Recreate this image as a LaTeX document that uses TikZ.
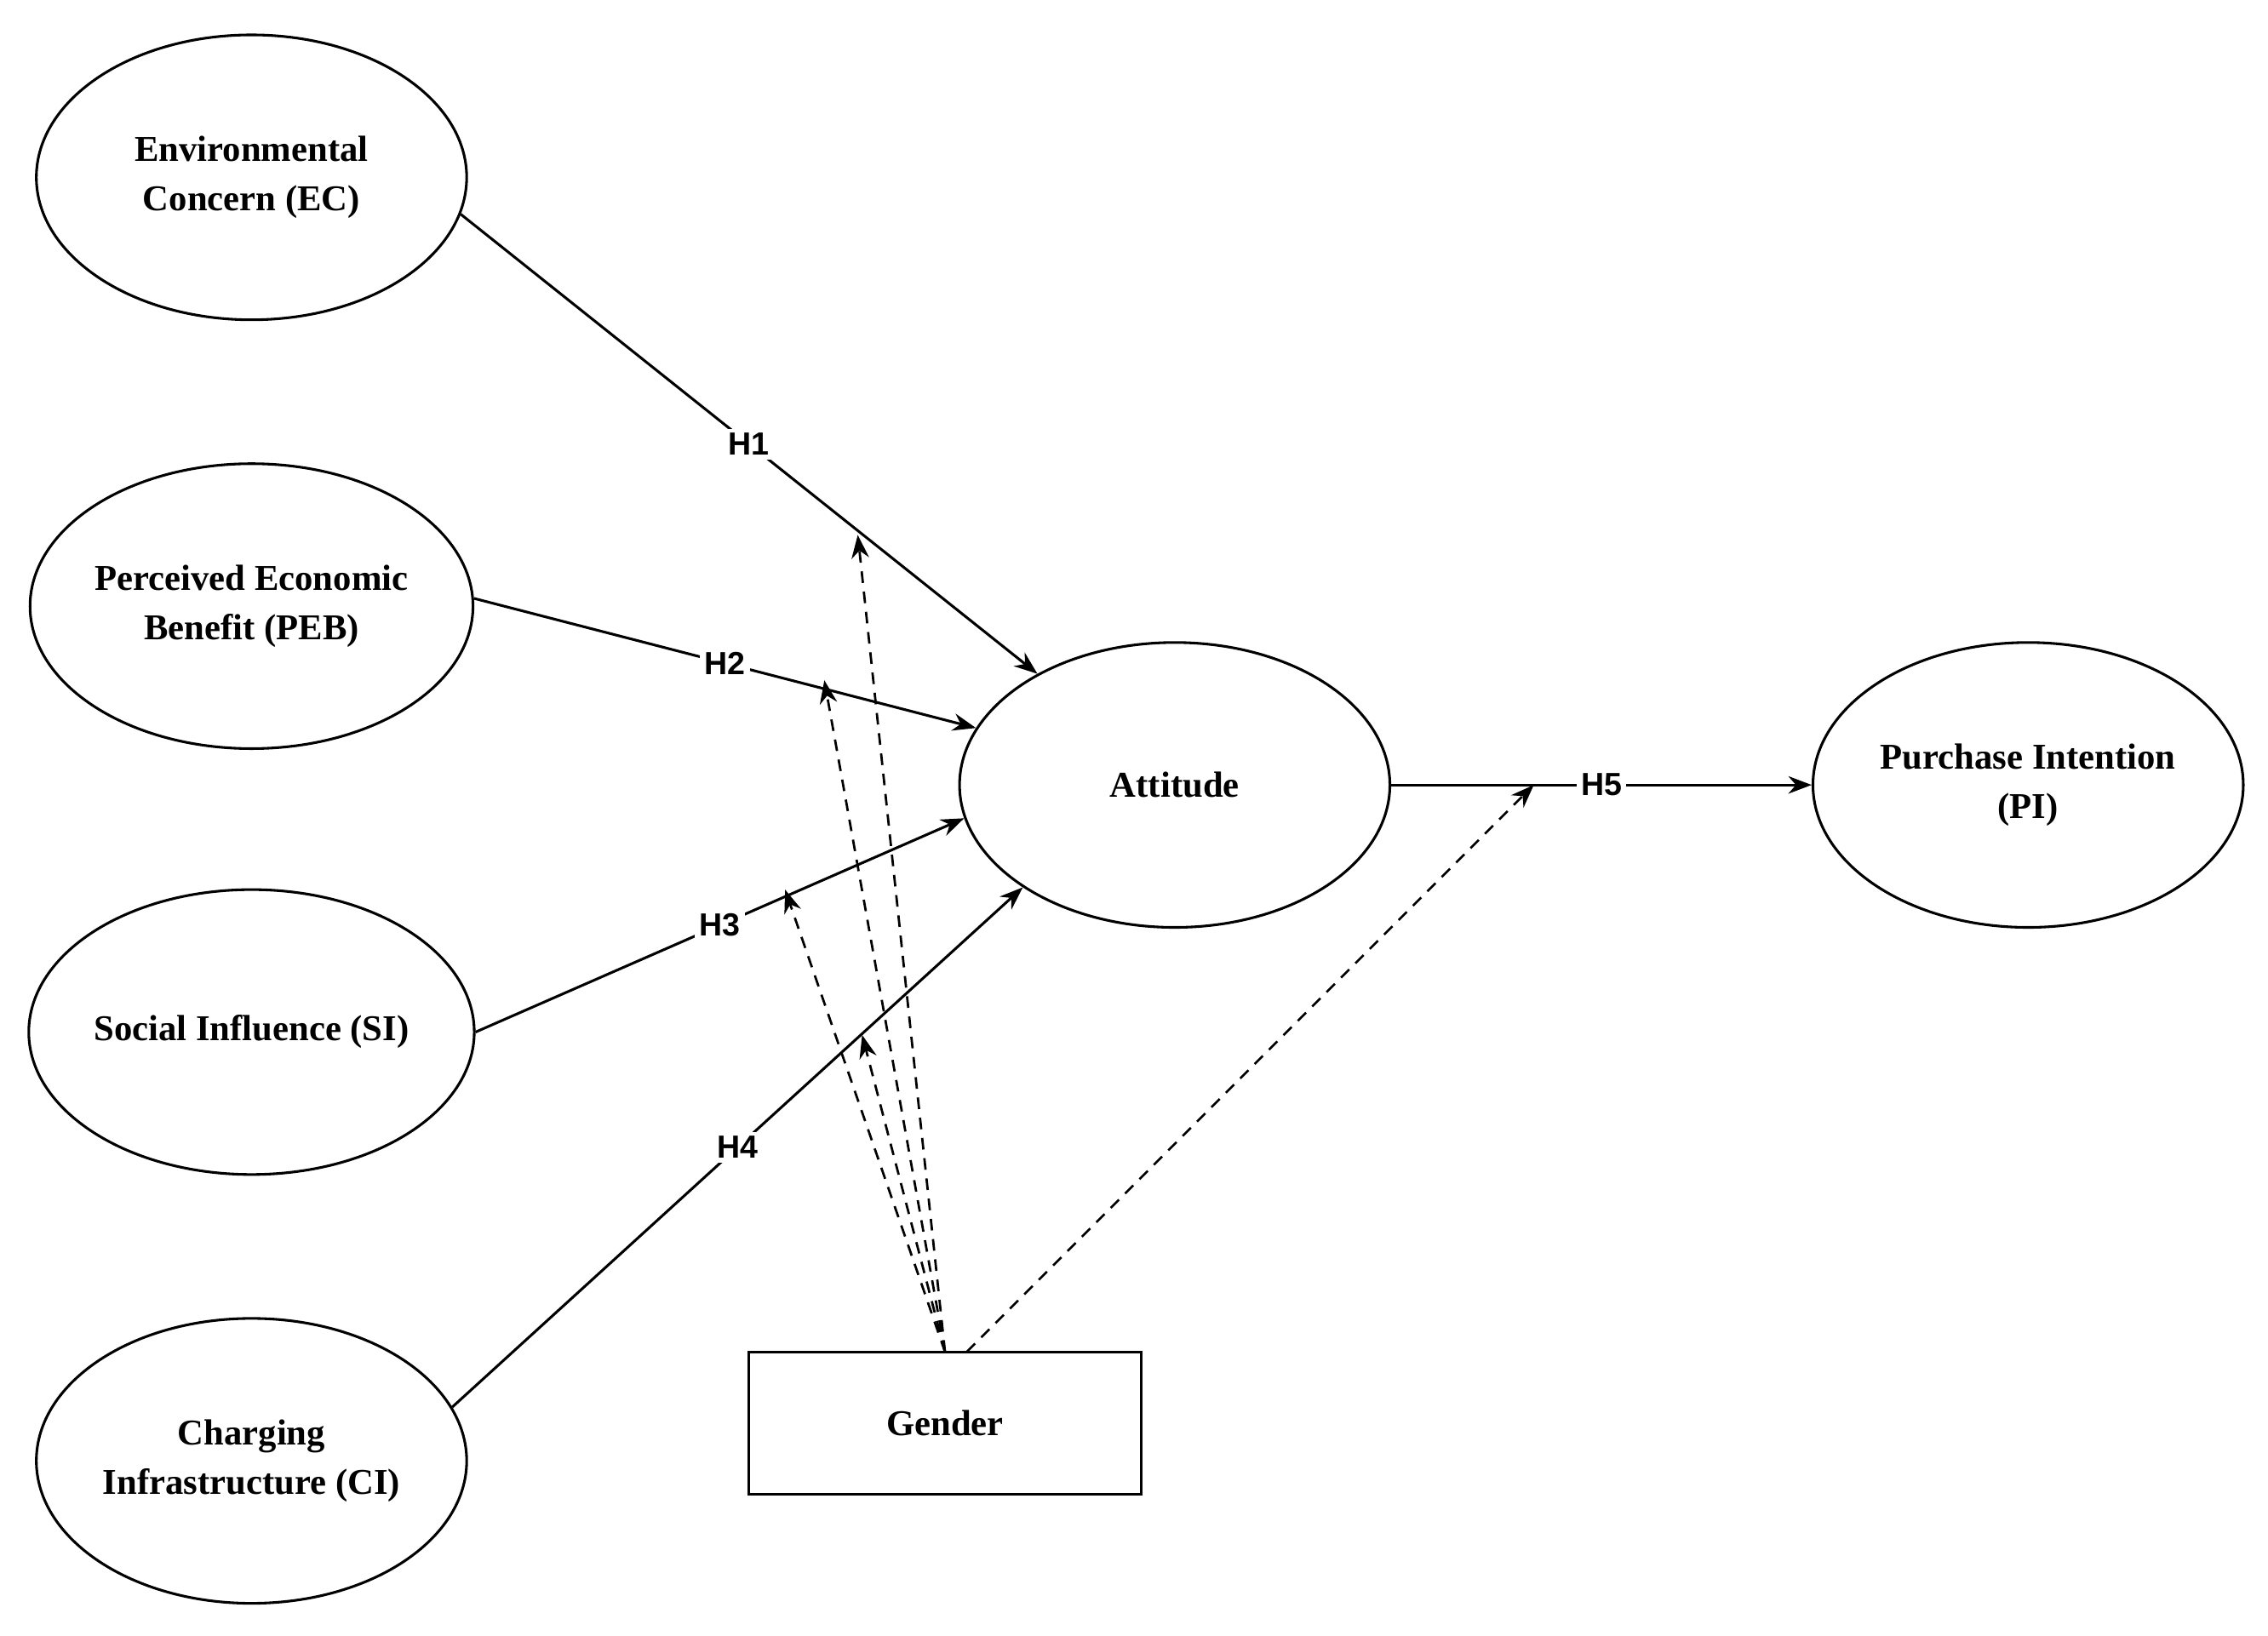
\documentclass[tikz,border=0pt]{standalone}
\usepackage{fontspec}
\setmainfont{Liberation Serif}
\newfontfamily\lab{Liberation Sans}
\usetikzlibrary{arrows.meta,shapes.geometric}
\begin{document}
\begin{tikzpicture}[x=0.5pt,y=-0.5pt,
  ell/.style={draw,ellipse,line width=0.9pt,minimum width=148pt,minimum height=98pt,inner sep=0pt,align=center,font=\bfseries\fontsize{12.5}{17}\selectfont},
  arr/.style={line width=0.9pt,-{Stealth[length=8pt,width=6pt]}},
  darr/.style={line width=0.8pt,dashed,dash pattern=on 4pt off 3pt,-{Stealth[length=8pt,width=6pt]}},
  hl/.style={fill=white,inner sep=1.5pt,font=\lab\bfseries\fontsize{11}{13}\selectfont}]
\useasboundingbox (0,0) rectangle (1560,1125);
\node[ell] (EC) at (173,122) {Environmental\\Concern (EC)};
\node[ell] (PEB) at (173,417) {Perceived Economic\\Benefit (PEB)};
\node[ell] (SI) at (173,710) {Social Influence (SI)};
\node[ell] (CI) at (173,1005) {Charging\\Infrastructure (CI)};
\node[ell] (AT) at (808,540) {Attitude};
\node[ell] (PI) at (1395,540) {Purchase Intention\\(PI)};
\node[draw,line width=0.9pt,minimum width=135pt,minimum height=49pt,font=\bfseries\fontsize{12.5}{17}\selectfont] (G) at (650,979) {Gender};
\draw[arr] (EC.350) -- node[hl]{H1} (AT.141);
\draw[arr] (PEB.2) -- node[hl]{H2} (AT.164);
\draw[arr] (SI.0) -- node[hl]{H3} (AT.189);
\draw[arr] (CI.15) -- node[hl]{H4} (AT.214);
\draw[arr] (AT.east) -- node[hl]{H5} (PI.west);
\coordinate (g1) at (650,930);
\coordinate (g2) at (665,930);
\coordinate (t1) at (590,368);
\coordinate (t2) at (567,468);
\coordinate (t3) at (540,612);
\coordinate (t4) at (593,712);
\coordinate (t5) at (1055,540);
\foreach \t in {t1,t2,t3,t4} \draw[darr] (g1) -- (\t);
\draw[darr] (g2) -- (t5);
\end{tikzpicture}
\end{document}
